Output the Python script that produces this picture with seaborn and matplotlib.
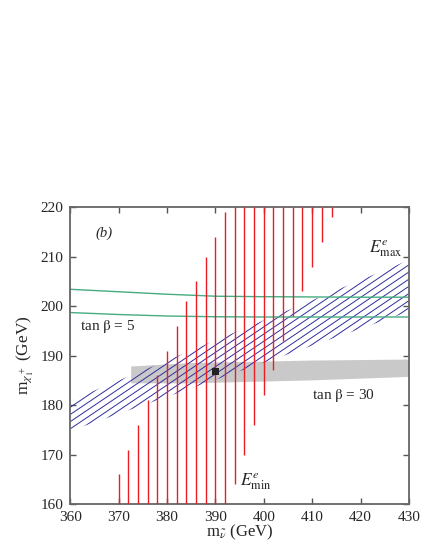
import numpy as np
import pandas as pd
import matplotlib
matplotlib.use("Agg")
import matplotlib.pyplot as plt
import seaborn as sns
from matplotlib.patches import Polygon

# red vertical segments (E^e_min / E^e_max constraints)
red_x = [370, 372, 374, 376, 378, 380, 382, 384, 386, 388, 390, 392,
         394, 396, 398, 400, 402, 404, 406, 408, 410, 412, 414]
red_bottom = [160, 160, 160, 160, 160, 160, 160, 160, 160, 160, 160, 160,
              164, 170, 176, 182, 187, 193, 198, 203, 208, 213, 218]
red_top = [166, 171, 176, 181, 186, 191, 196, 201, 205, 210, 214, 219,
           220, 220, 220, 220, 220, 220, 220, 220, 220, 220, 220]

# green curves, tan beta = 5
green_x = [360, 370, 380, 390, 400, 410, 420, 430]
green_upper = [203.4, 202.9, 202.4, 202.0, 201.9, 201.85, 201.8, 201.8]
green_lower = [198.7, 198.3, 198.0, 197.85, 197.8, 197.8, 197.8, 197.8]

# gray band, tan beta = 30
gray_x = [372.6, 385, 410, 430]
gray_top = [187.8, 188.5, 189.0, 189.2]
gray_bottom = [184.4, 184.4, 185.0, 185.7]

# hatched E^e_max band
band_x = [360, 430]
band_lo = [174.8, 198.9]
band_hi = [180.9, 209.3]

# best fit point
point_x = [390]
point_y = [186.8]

sns.set_style("ticks")
plt.rcParams['font.family'] = ['Liberation Serif', 'DejaVu Serif']
plt.rcParams['mathtext.fontset'] = 'stix'

fig = plt.figure(figsize=(4.36, 5.45), dpi=100)
ax = fig.add_axes([0.161, 0.075, 0.777, 0.545])

# gray band
poly = list(zip(gray_x, gray_top)) + list(zip(gray_x[::-1], gray_bottom[::-1]))
ax.add_patch(Polygon(poly, closed=True, facecolor='#c9c9c9', edgecolor='none', zorder=1))

# hatched band: parallel lines clipped to the band polygon
band_poly = Polygon([(band_x[0], band_lo[0]), (band_x[1], band_lo[1]),
                     (band_x[1], band_hi[1]), (band_x[0], band_hi[0])],
                    closed=True, facecolor='none', edgecolor='none')
ax.add_patch(band_poly)
xs = np.array(band_x, dtype=float)
for c in np.arange(152.0, 182.0, 1.45):
    ln, = ax.plot(xs, 0.66 * (xs - 360) + c, color='#2e2e9e', lw=0.7, zorder=2)
    ln.set_clip_path(band_poly)

# red segments
ax.vlines(red_x, red_bottom, red_top, color='#ec1c24', lw=1.0, zorder=3)

# green curves
df = pd.DataFrame({'x': green_x * 2,
                   'y': green_upper + green_lower,
                   'curve': ['up'] * len(green_x) + ['low'] * len(green_x)})
sns.lineplot(data=df, x='x', y='y', units='curve', estimator=None,
             color='#45ad80', lw=1.0, ax=ax, zorder=2.5)

# point
sns.scatterplot(x=point_x, y=point_y, marker='s', s=22, color='#222222',
                edgecolor='none', ax=ax, zorder=5)

ax.set_xlim(360, 430)
ax.set_ylim(160, 220)
ax.set_xticks(range(360, 431, 10))
ax.set_yticks(range(160, 221, 10))
ax.tick_params(direction='in', top=True, right=True, length=4, width=1,
               color='#555555', labelsize=11, pad=5)
for s in ax.spines.values():
    s.set_color('#666666')
    s.set_linewidth(1.3)

ax.set_xlabel(r'm$_{\tilde{\nu}}$ (GeV)', fontsize=12, labelpad=-1)
ax.set_ylabel(r'm$_{\chi_1^+}$ (GeV)', fontsize=12.5, labelpad=3)

ax.text(367, 214.7, '(b)', style='italic', fontsize=10.5, ha='center', va='center')
ax.text(362, 195.8, r'tan $\mathrm{\beta}$ = 5', fontsize=11, ha='left', va='center')
ax.text(410.0, 182.0, r'tan $\mathrm{\beta}$ = 30', fontsize=11, ha='left', va='center')
ax.text(428.7, 211.7, r'$E^{e}_{\rm max}$', fontsize=12.5, ha='right', va='center')
ax.text(395.0, 164.5, r'$E^{e}_{\rm min}$', fontsize=12.5, ha='left', va='center')

fig.savefig('out.png', dpi=100)
